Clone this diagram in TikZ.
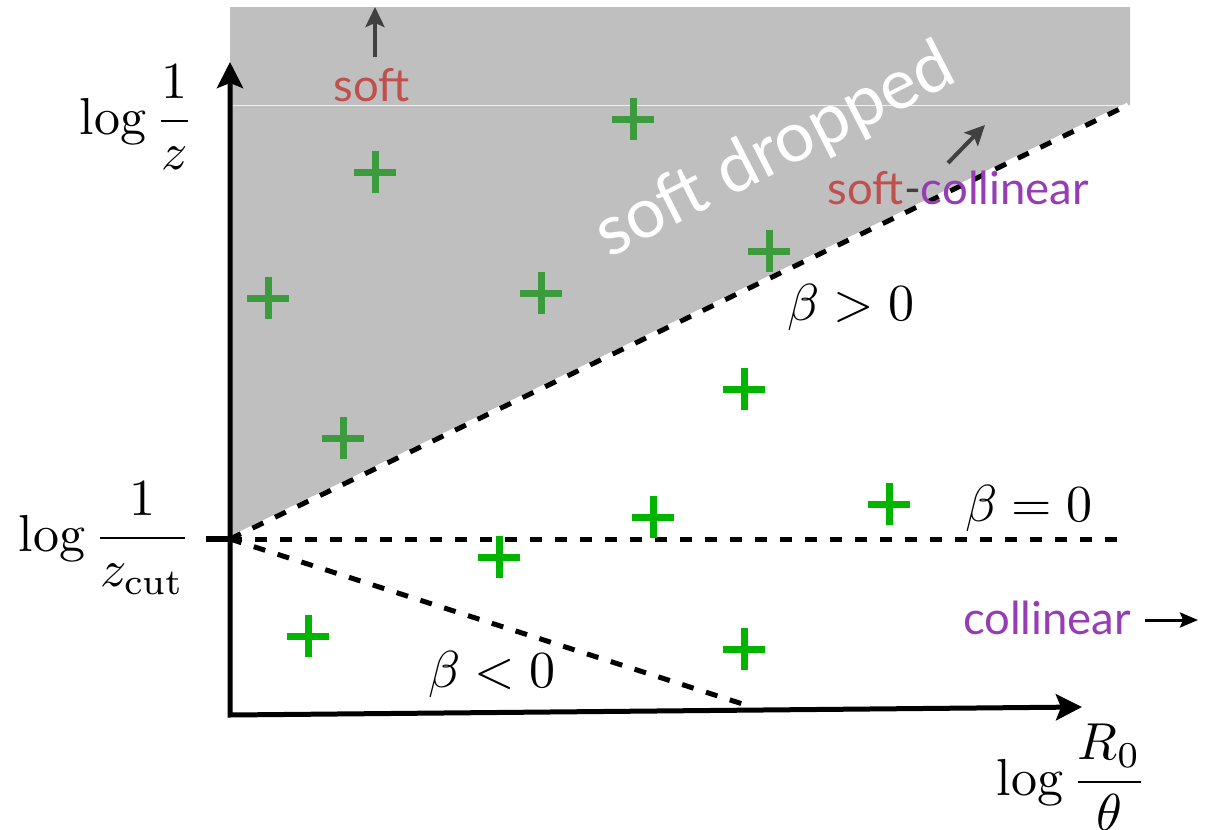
\documentclass[tikz,border=0pt]{standalone}
\usepackage{fontspec}
\newfontfamily\gill{Lato}
\usetikzlibrary{arrows.meta}
\definecolor{softred}{RGB}{192,80,77}
\definecolor{colpurple}{RGB}{150,60,180}
\definecolor{regiongray}{RGB}{191,191,191}
\definecolor{darkgreen}{RGB}{60,155,60}
\definecolor{brightgreen}{RGB}{0,180,0}
\definecolor{arrowgray}{RGB}{64,64,64}
\begin{document}
\begin{tikzpicture}[x=1pt,y=-1pt,
  mathlbl/.style={inner sep=0pt, scale=5.2},
  sanslbl/.style={inner sep=0pt, scale=4.55, font=\gill},
  axisline/.style={line width=5pt, {Stealth[length=26pt,width=26pt,inset=5pt]}-{Stealth[length=26pt,width=26pt,inset=5pt]}},
  boundary/.style={line width=5pt, dash pattern=on 12pt off 13pt},
  hintarrow/.style={arrowgray, line width=4pt, -{Stealth[length=20pt,width=19pt,inset=4pt]}},
  crossmark/.style={minimum size=42pt, inner sep=0pt, path picture={
      \draw[line width=7pt, #1] (path picture bounding box.north) -- (path picture bounding box.south)
        (path picture bounding box.west) -- (path picture bounding box.east);}}
]
\useasboundingbox (0,0) rectangle (1208,830);

% shaded soft-dropped region
\fill[regiongray] (230,7) -- (1130,7) -- (1130,105) -- (231,537) -- cycle;
\draw[white!88!gray, line width=1pt] (231,105) -- (1130,105);

% reference points
\coordinate (O) at (230,539);
\coordinate (Bpos) at (1128,105);
\coordinate (Bzero) at (1128,539);
\coordinate (Bneg) at (752,707);
\coordinate (Ytip) at (230,62);
\coordinate (Corner) at (230,715);
\coordinate (Xtip) at (1082,707);
\coordinate (Tick) at (206,539);

% boundaries
\draw[white, line width=5pt] (O) -- (Bpos);
\draw[boundary] (O) -- (Bpos);
\draw[boundary] (O) -- (Bzero);
\draw[boundary] (O) -- (Bneg);

% axes
\draw[axisline] (Ytip) -- (Corner) -- (Xtip);
\draw[line width=6pt] (Tick) -- (O);

% axis labels
\node[mathlbl, anchor=base east] (ylab) at (195,134) {$\displaystyle\log\frac{1}{z}$};
\node[mathlbl, anchor=base east] (zcut) at (192,551) {$\displaystyle\log\frac{1}{z_{\mathrm{cut}}}$};
\node[mathlbl, anchor=base east] (xlab) at (1148,795) {$\displaystyle\log\frac{R_0}{\theta}$};

% beta labels
\node[mathlbl, anchor=base] (bpos) at (851,320) {$\beta>0$};
\node[mathlbl, anchor=base] (bzero) at (1029,521) {$\beta=0$};
\node[mathlbl, anchor=base] (bneg) at (492,687) {$\beta<0$};

% region labels
\node[sanslbl, text=softred, anchor=base] (soft) at (372,101) {soft};
\coordinate (softA) at (375,57);
\coordinate (softB) at (375,7);
\draw[hintarrow] (softA) -- (softB);

\node[sanslbl, anchor=base west] (softcol) at (827,204) {\textcolor{softred}{soft}\textcolor{arrowgray}{-}\textcolor{colpurple}{collinear}};
\coordinate (scA) at (948,163);
\coordinate (scB) at (985,125);
\draw[hintarrow] (scA) -- (scB);

\node[sanslbl, text=colpurple, anchor=base east] (col) at (1132,634) {collinear};
\coordinate (colA) at (1145,620);
\coordinate (colB) at (1198,620);
\draw[line width=3pt, -{Stealth[length=18pt,width=15pt,inset=3pt]}] (colA) -- (colB);

\node[inner sep=0pt, text=white, rotate=27, scale=7, font=\gill] (sd) at (775,152) {soft dropped};

% emissions
\node[crossmark=darkgreen] (c1) at (633,119) {};
\node[crossmark=darkgreen] (c2) at (375,172) {};
\node[crossmark=darkgreen] (c3) at (268,298) {};
\node[crossmark=darkgreen] (c4) at (541,293) {};
\node[crossmark=darkgreen] (c5) at (769,251) {};
\node[crossmark=darkgreen] (c6) at (343,438) {};
\node[crossmark=brightgreen] (c7) at (744,389) {};
\node[crossmark=brightgreen] (c8) at (653,517) {};
\node[crossmark=brightgreen] (c9) at (889,504) {};
\node[crossmark=brightgreen] (c10) at (499,557) {};
\node[crossmark=brightgreen] (c11) at (308,636) {};
\node[crossmark=brightgreen] (c12) at (744,649) {};
\end{tikzpicture}
\end{document}
